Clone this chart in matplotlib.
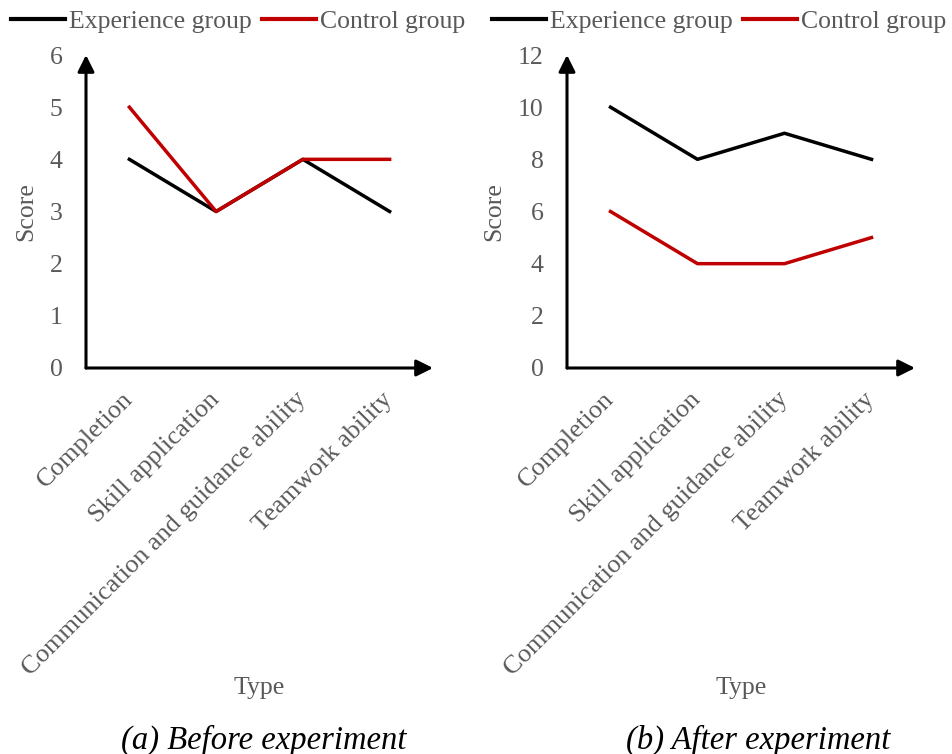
import matplotlib.pyplot as plt

# Scores per assessment type, before and after the experiment
categories = ["Completion", "Skill application",
              "Communication and guidance ability", "Teamwork ability"]
before_experience = [4, 3, 4, 3]
before_control = [5, 3, 4, 4]
after_experience = [10, 8, 9, 8]
after_control = [6, 4, 4, 5]

GRAY = "#595959"
RED = "#C00000"

plt.rcParams["font.family"] = ["Liberation Serif", "DejaVu Serif"]
plt.rcParams["font.size"] = 18.5

fig = plt.figure(figsize=(9.53, 7.54), dpi=100)
panels = [
    dict(rect=[86 / 953, 1 - 368 / 754, 347 / 953, 313 / 754],
         exp=before_experience, ctl=before_control, ymax=6, step=1,
         legend_x=238 / 953, caption="(a) Before experiment", cap_x=264 / 953),
    dict(rect=[567 / 953, 1 - 368 / 754, 348 / 953, 313 / 754],
         exp=after_experience, ctl=after_control, ymax=12, step=2,
         legend_x=719 / 953, caption="(b) After experiment", cap_x=758 / 953),
]

for p in panels:
    ax = fig.add_axes(p["rect"])
    x = range(len(categories))
    l1, = ax.plot(x, p["exp"], color="black", lw=2.5, label="Experience group")
    l2, = ax.plot(x, p["ctl"], color=RED, lw=2.5, label="Control group")

    ax.set_xlim(-0.5, 3.5)
    ax.set_ylim(0, p["ymax"])
    ax.set_yticks(range(0, p["ymax"] + 1, p["step"]))
    ax.set_xticks(list(x))
    ax.set_xticklabels(categories, rotation=45, ha="right", va="center",
                       rotation_mode="anchor", color=GRAY, fontsize=19)
    ax.tick_params(axis="y", length=0, pad=17, colors=GRAY)
    ax.tick_params(axis="x", length=0, pad=20)
    for s in ax.spines.values():
        s.set_visible(False)

    # axes drawn as arrows
    arrow = dict(arrowstyle="-|>,head_length=0.5,head_width=0.25", lw=2.2,
                 color="black", mutation_scale=20, shrinkA=0, shrinkB=0)
    ax.annotate("", xy=(1, 0), xytext=(0, 0), xycoords="axes fraction",
                arrowprops=arrow)
    ax.annotate("", xy=(0, 1), xytext=(0, 0), xycoords="axes fraction",
                arrowprops=arrow)

    ax.set_xlabel("Type", color=GRAY, labelpad=-2)
    ax.set_ylabel("Score", color=GRAY, labelpad=9)

    leg = fig.legend([l1, l2], ["Experience group", "Control group"],
                     loc="center", bbox_to_anchor=(p["legend_x"], 1 - 22 / 754),
                     ncol=2, frameon=False, handlelength=2.1,
                     handletextpad=0.15, columnspacing=0.4, labelcolor=GRAY,
                     borderaxespad=0, borderpad=0)
    for h in leg.get_lines():
        h.set_linewidth(3)
    fig.text(p["cap_x"], 1 - 740 / 754, p["caption"], ha="center",
             va="center", fontsize=23.5, style="italic")

fig.savefig("out.png", dpi=100)
